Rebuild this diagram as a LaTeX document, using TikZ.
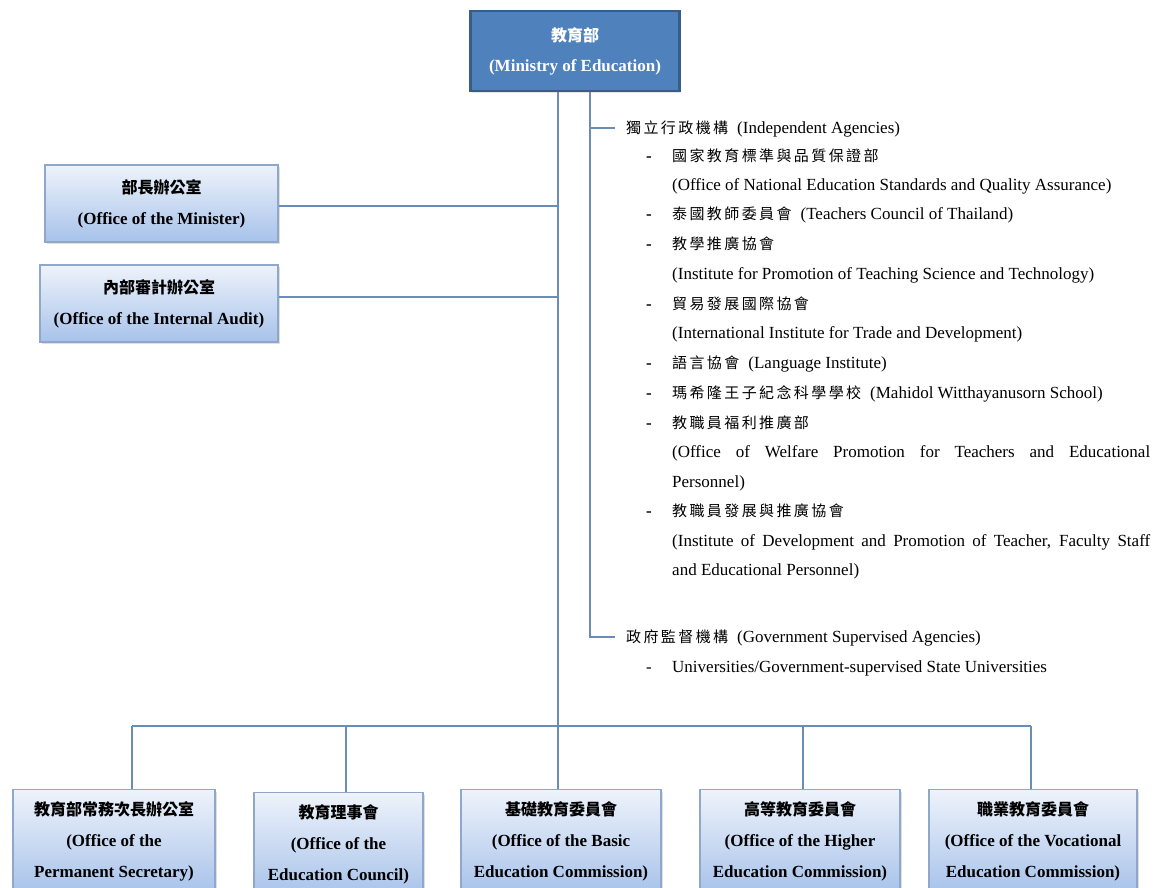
\documentclass[tikz,border=0pt]{standalone}
\usepackage{fontspec}
\setmainfont{Liberation Serif}
\newfontfamily\cjk{Noto Sans CJK TC}
\newfontfamily\cjkwide[LetterSpace=16]{Noto Sans CJK TC}
\usetikzlibrary{positioning, shadows}
\definecolor{headblue}{HTML}{4F81BD}
\definecolor{headedge}{HTML}{385D8A}
\definecolor{unitedge}{HTML}{8FA7C9}
\definecolor{unittop}{HTML}{EEF3FB}
\definecolor{unitbot}{HTML}{A7C2EA}
\definecolor{linkblue}{HTML}{6A8DB8}
\newcommand{\zh}[1]{{\cjkwide\fontsize{15}{20}\selectfont #1}}
\newcommand{\zhb}[1]{{\cjk\bfseries\fontsize{16}{31}\selectfont #1}}
\newcommand{\gap}{\hspace{9pt}}

\begin{document}
\begin{tikzpicture}[x=1pt, y=-1pt, every node/.style={inner sep=0pt}]
  \tikzset{
    unit/.style={draw=unitedge, line width=1.2pt, top color=unittop, bottom color=unitbot,
      align=center, font=\fontsize{17}{31}\selectfont\bfseries,
      drop shadow={opacity=0.25, shadow xshift=1.5pt, shadow yshift=-2pt}},
    link/.style={draw=linkblue, line width=1.2pt},
    entry/.style={anchor=base west, font=\fontsize{17}{20}\selectfont},
    dashmark/.style={anchor=base west, font=\fontsize{17}{20}\selectfont\bfseries}
  }
  \useasboundingbox (0,0) rectangle (1153,887);

  % ministry
  \node[minimum width=209pt, minimum height=80pt, fill=headblue, draw=headedge, line width=2.5pt,
    text=white, align=center, font=\fontsize{17}{30}\selectfont\bfseries,
    drop shadow={opacity=0.2, shadow xshift=1.5pt, shadow yshift=-2pt}] (moe) at (575,51)
    {\zhb{教育部}\\(Ministry of Education)};

  % offices on the left
  \node[unit, minimum width=233pt, minimum height=77pt] (min) at (161.5,203.5)
    {\zhb{部長辦公室}\\(Office of the Minister)};
  \node[unit, minimum width=238pt, minimum height=77pt] (audit) at (159,303.5)
    {\zhb{內部審計辦公室}\\(Office of the Internal Audit)};

  % commissions
  \node[unit, anchor=north, minimum width=202pt, minimum height=104pt] (ps) at (114,789)
    {\zhb{教育部常務次長辦公室}\\(Office of the\\Permanent Secretary)};
  \node[unit, anchor=north, minimum width=169pt, minimum height=104pt] (ec) at (338.5,792)
    {\zhb{教育理事會}\\(Office of the\\Education Council)};
  \node[unit, anchor=north, minimum width=200pt, minimum height=104pt] (obec) at (561,789)
    {\zhb{基礎教育委員會}\\(Office of the Basic\\Education Commission)};
  \node[unit, anchor=north, minimum width=200pt, minimum height=104pt] (ohec) at (800,789)
    {\zhb{高等教育委員會}\\(Office of the Higher\\Education Commission)};
  \node[unit, anchor=north, minimum width=208pt, minimum height=104pt] (ovec) at (1033,789)
    {\zhb{職業教育委員會}\\(Office of the Vocational\\Education Commission)};

  % agencies
  \node[entry] (indep) at (626,133) {\zh{獨立行政機構}\gap(Independent Agencies)};
  \node[dashmark] (d1) at (646,161) {-};
  \node[entry] (a1) at (672,161) {\zh{國家教育標準與品質保證部}};
  \node[entry] (a1e) at (672,190) {(Office of National Education Standards and Quality Assurance)};
  \node[dashmark] (d2) at (646,219) {-};
  \node[entry] (a2) at (672,219) {\zh{泰國教師委員會}\gap(Teachers Council of Thailand)};
  \node[dashmark] (d3) at (646,249) {-};
  \node[entry] (a3) at (672,249) {\zh{教學推廣協會}};
  \node[entry] (a3e) at (672,279) {(Institute for Promotion of Teaching Science and Technology)};
  \node[dashmark] (d4) at (646,309) {-};
  \node[entry] (a4) at (672,309) {\zh{貿易發展國際協會}};
  \node[entry] (a4e) at (672,338) {(International Institute for Trade and Development)};
  \node[dashmark] (d5) at (646,368) {-};
  \node[entry] (a5) at (672,368) {\zh{語言協會}\gap(Language Institute)};
  \node[dashmark] (d6) at (646,398) {-};
  \node[entry] (a6) at (672,398) {\zh{瑪希隆王子紀念科學學校}\gap(Mahidol Witthayanusorn School)};
  \node[dashmark] (d7) at (646,428) {-};
  \node[entry] (a7) at (672,428) {\zh{教職員福利推廣部}};
  \node[entry] (a7e) at (672,457) {\makebox[478pt][s]{(Office of Welfare Promotion for Teachers and Educational}};
  \node[entry] (a7f) at (672,487) {Personnel)};
  \node[dashmark] (d8) at (646,516) {-};
  \node[entry] (a8) at (672,516) {\zh{教職員發展與推廣協會}};
  \node[entry] (a8e) at (672,546) {\makebox[478pt][s]{(Institute of Development and Promotion of Teacher, Faculty Staff}};
  \node[entry] (a8f) at (672,575) {and Educational Personnel)};

  \node[entry] (gov) at (626,642) {\zh{政府監督機構}\gap(Government Supervised Agencies)};
  \node[entry] (d9) at (646,672) {-};
  \node[entry] (u1) at (672,672) {Universities/Government-supervised State Universities};

  % connectors
  \coordinate (bus) at (558,726);
  \path (moe.south) ++(15pt,0) coordinate (side);
  \draw[link] (moe.south -| bus) -- (bus);
  \draw[link] ([yshift=-2.5pt]min.east) -- ([yshift=-2.5pt]min.east -| bus);
  \draw[link] ([yshift=6.5pt]audit.east) -- ([yshift=6.5pt]audit.east -| bus);
  \draw[link] (side) |- ([xshift=-11pt,yshift=5pt]gov.base west);
  \draw[link] ([yshift=5pt]indep.base west -| side) -- ([xshift=-11pt,yshift=5pt]indep.base west);
  \draw[link] (132,726) -- (1031,726);
  \foreach \x/\n in {132/ps, 346/ec, 558/obec, 803/ohec, 1031/ovec}
    \draw[link] (\x,726) -- (\x,726 |- \n.north);
\end{tikzpicture}
\end{document}
